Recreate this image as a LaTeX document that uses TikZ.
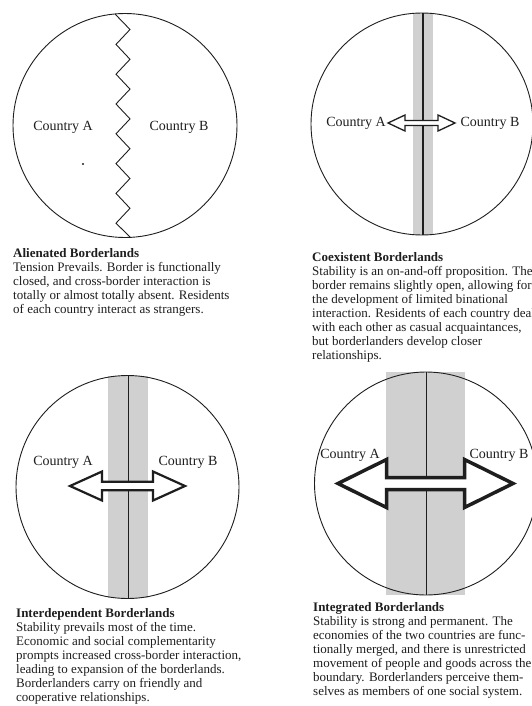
\documentclass[tikz,border=0pt]{standalone}
\usepackage{fontspec}
\setmainfont{Liberation Serif}
\definecolor{stripegray}{RGB}{208,208,208}
\definecolor{inkgray}{RGB}{30,30,30}
\tikzset{
  ring/.style={draw=inkgray,line width=0.9pt},
  stripe/.style={fill=stripegray,draw=none},
  borderline/.style={draw=inkgray,line width=1.2pt},
  zig/.style={draw=inkgray,line width=0.9pt,line join=miter},
  label/.style={font=\fontsize{14}{16}\selectfont,inner sep=0pt,text=inkgray},
  caption/.style={font=\fontsize{13}{14}\selectfont,inner sep=0pt,anchor=north west,align=left,text=inkgray},
  arrowbox/.style={draw=inkgray,fill=white,line join=miter}
}
\begin{document}
\begin{tikzpicture}[x=1pt,y=-1pt]
\useasboundingbox (0,0) rectangle (531,706);
\fill[white] (0,0) rectangle (531,706);

% ---------- Panel 1: Alienated ----------
\draw[ring] (125,125.5) circle (112);
\draw[zig] (115,14) -- (130,29.5) -- (116,44.4) -- (130,59.3) -- (116,74.2) -- (130,89.1)
  -- (116,104) -- (130,118.9) -- (116,133.8) -- (130,148.7) -- (116,163.6) -- (130,178.5)
  -- (116,193.4) -- (130,208.3) -- (116,223.2) -- (130,237);
\node[label] (a1) at (63,127) {Country A};
\node[label] (b1) at (179,127) {Country B};
\fill[inkgray] (83,164) circle (1.1);
\node[caption] (t1) at (13,248) {\textbf{Alienated Borderlands}\\
Tension Prevails. Border is functionally\\
closed, and cross-border interaction is\\
totally or almost totally absent. Residents\\
of each country interact as strangers.};

% ---------- Panel 2: Coexistent ----------
\fill[stripe] (413,13) rectangle (433,235);
\draw[ring] (422,124) circle (111);
\draw[borderline] (423,13) -- (423,235);
\draw[arrowbox,line width=1.3pt] (388,123) -- (405,115) -- (405,120.5) -- (438,120.5) -- (438,115)
  -- (455,123) -- (438,131) -- (438,125.5) -- (405,125.5) -- (405,131) -- cycle;
\node[label] (a2) at (356,123) {Country A};
\node[label] (b2) at (490,123) {Country B};
\node[caption] (t2) at (312,252) {\textbf{Coexistent Borderlands}\\
Stability is an on-and-off proposition. The\\
border remains slightly open, allowing for\\
the development of limited binational\\
interaction. Residents of each country deal\\
with each other as casual acquaintances,\\
but borderlanders develop closer\\
relationships.};

% ---------- Panel 3: Interdependent ----------
\fill[stripe] (108,376) rectangle (148,598);
\draw[ring] (127.5,487) circle (111.5);
\draw[borderline,line width=1pt] (128,376) -- (128,598);
\draw[arrowbox,line width=2.2pt] (70,486) -- (102,471.5) -- (102,481.8) -- (153,481.8) -- (153,471.5)
  -- (185,486) -- (153,500.5) -- (153,490.2) -- (102,490.2) -- (102,500.5) -- cycle;
\node[label] (a3) at (63,462) {Country A};
\node[label] (b3) at (188,462) {Country B};
\node[caption] (t3) at (16,608) {\textbf{Interdependent Borderlands}\\
Stability prevails most of the time.\\
Economic and social complementarity\\
prompts increased cross-border interaction,\\
leading to expansion of the borderlands.\\
Borderlanders carry on friendly and\\
cooperative relationships.};

% ---------- Panel 4: Integrated ----------
\fill[stripe] (386,372) rectangle (465,595);
\draw[ring] (426,483.5) circle (111.5);
\draw[borderline,line width=1pt] (426,372) -- (426,595);
\draw[arrowbox,line width=3.5pt] (338,483.5) -- (386.5,459.5) -- (386.5,477.5) -- (464.5,477.5) -- (464.5,459.5)
  -- (513,483.5) -- (464.5,507.5) -- (464.5,489.5) -- (386.5,489.5) -- (386.5,507.5) -- cycle;
\node[label] (a4) at (350,455) {Country A};
\node[label] (b4) at (499,455) {Country B};
\node[caption] (t4) at (313,602) {\textbf{Integrated Borderlands}\\
Stability is strong and permanent. The\\
economies of the two countries are func-\\
tionally merged, and there is unrestricted\\
movement of people and goods across the\\
boundary. Borderlanders perceive them-\\
selves as members of one social system.};
\end{tikzpicture}
\end{document}
